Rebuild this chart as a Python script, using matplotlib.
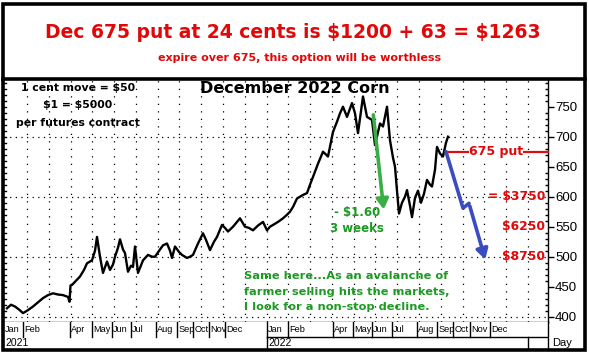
import numpy as np
import matplotlib.pyplot as plt
from matplotlib.patches import Rectangle
from matplotlib.lines import Line2D

# daily corn (Dec 2022 contract) - bar index and price in cents
bar = [3, 7, 11, 15, 19, 24, 29, 34, 39, 44, 49, 54, 59, 64, 65.5, 66.5,
       68, 72, 76, 80, 83, 88, 91, 93, 96, 99, 103, 106, 109, 111, 114, 116,
       119, 121, 124, 127, 129, 131, 134, 139, 144, 148, 151, 156, 159, 163,
       166, 168, 171, 175, 178, 183, 186, 189, 194, 199, 202, 206, 210, 213,
       218, 221, 224, 229, 233, 236, 241, 245, 249, 254, 259, 263, 266, 269,
       274, 279, 283, 286, 289, 293, 296, 299, 303, 306, 309, 314, 319, 324,
       329, 333, 336, 339, 343, 348, 351, 354, 359, 363, 368, 371, 376, 379,
       383, 386, 389, 391, 393, 395, 398, 401, 403, 406, 408, 411, 414, 417,
       420, 423, 426, 428, 431, 433, 436, 439, 442, 444]
price = [414, 420, 417, 412, 406, 411, 417, 424, 431, 436, 439, 437, 436, 433, 425, 452,
         453, 460, 467, 478, 489, 494, 510, 533, 500, 473, 492, 478, 487, 500, 515, 529,
         512, 506, 475, 485, 483, 517, 473, 494, 503, 500, 500, 512, 519, 522, 510, 498,
         517, 508, 503, 498, 500, 503, 522, 539, 528, 511, 525, 533, 553, 548, 542, 550,
         558, 564, 550, 548, 544, 552, 558, 544, 550, 553, 558, 564, 570, 575, 583, 597,
         600, 603, 606, 620, 633, 655, 675, 667, 708, 725, 739, 750, 733, 756, 739, 706,
         767, 733, 728, 686, 722, 717, 750, 694, 665, 650, 610, 572, 590, 600, 611, 585,
         566, 598, 610, 590, 605, 628, 620, 617, 645, 683, 672, 667, 690, 700]

months = ['Jan', 'Feb', 'Apr', 'May', 'Jun', 'Jul', 'Aug', 'Sep', 'Oct', 'Nov', 'Dec',
          'Jan', 'Feb', 'Apr', 'May', 'Jun', 'Jul', 'Aug', 'Sep', 'Oct', 'Nov', 'Dec']
month_start = [0, 19, 66, 88, 108, 127, 152, 173, 189, 205, 221,
               263, 284, 329, 349, 368, 388, 413, 433, 449, 466, 486]
years = ['2021', '2022', '']
year_start = [0, 263, 524]

put_strike = 675
put_path_bar = [442, 459, 465, 482]
put_path_price = [675, 581, 589, 491]
drop_bar = [369, 380]
drop_price = [741, 574]
payoff_levels = [600, 550, 500]
payoff_labels = ['= $3750', '$6250', '$8750']

W, H = 589, 355
RED = '#e00808'
GREEN = '#1c9a22'
BLUE = '#3b4cc0'


def fx(px):
    return px / W


def fy(py):
    return 1 - py / H


fig = plt.figure(figsize=(W / 100, H / 100), dpi=100)
fig.patch.set_facecolor('white')

ax = fig.add_axes([fx(4), fy(322), fx(548) - fx(4), fy(80) - fy(322)])
ax.set_xlim(0, 544)
ax.set_ylim(391.2, 794.5)
for s in ['top', 'left']:
    ax.spines[s].set_visible(False)
ax.spines['right'].set_linewidth(1)
ax.spines['bottom'].set_linewidth(1)

# dotted grid
for g in [400, 500, 600, 700]:
    ax.axhline(g, color='black', lw=0.9, ls=(0, (1, 3.5)), zorder=1)
for gx in 23 + 21.78 * np.arange(0, 24):
    ax.axvline(gx, color='black', lw=0.9, ls=(0, (1, 5)), zorder=1)

ax.yaxis.tick_right()
ax.set_yticks(np.arange(400, 751, 50))
ax.set_yticks(np.arange(400, 791, 10), minor=True)
ax.tick_params(axis='y', which='major', direction='out', length=4, width=1, pad=1,
               labelsize=9.5)
ax.tick_params(axis='y', which='minor', direction='in', length=2.5, width=1)
for lab in ax.get_yticklabels():
    lab.set_fontfamily('Liberation Sans')
ax.set_xticks([])

# left minor ticks
for v in np.arange(400, 791, 10):
    ax.plot([0, 1.6], [v, v], color='black', lw=1, clip_on=False, zorder=3)

ax.plot(bar, price, color='black', lw=1.7, zorder=4)

# annotations
ax.annotate('', xy=(drop_bar[1], drop_price[1]), xytext=(drop_bar[0], drop_price[0]),
            arrowprops=dict(arrowstyle='-|>,head_length=0.6,head_width=0.35',
                            color='#3aae46', lw=2.6), zorder=5)
ax.text(353, 574, '- $1.60', color=GREEN, fontsize=8.5, fontweight='bold',
        ha='center', va='center', parse_math=False)
ax.text(353, 547, '3 weeks', color=GREEN, fontsize=8.5, fontweight='bold',
        ha='center', va='center')

ax.plot([put_path_bar[0], 544], [put_strike, put_strike], color='#d81010', lw=1.6,
        zorder=5, clip_on=False)
ax.text(492, put_strike, '675 put', color=RED, fontsize=9, fontweight='bold',
        ha='center', va='center', zorder=6,
        bbox=dict(facecolor='white', edgecolor='none', pad=0.3))
ax.plot(put_path_bar[:-1], put_path_price[:-1], color=BLUE, lw=2.6, zorder=5,
        solid_capstyle='round', solid_joinstyle='round')
ax.annotate('', xy=(put_path_bar[-1], put_path_price[-1]),
            xytext=(put_path_bar[-2], put_path_price[-2]),
            arrowprops=dict(arrowstyle='-|>,head_length=0.6,head_width=0.35',
                            color=BLUE, lw=2.6), zorder=5)
for lv, lb in zip(payoff_levels, payoff_labels):
    ax.text(541, lv, lb, color=RED, fontsize=8.8, fontweight='bold',
            ha='right', va='center', zorder=6, parse_math=False)

ax.text(0.535, 0.995, 'December 2022 Corn', transform=ax.transAxes, fontsize=11.5,
        fontweight='bold', ha='center', va='top')
for i, t in enumerate(['1 cent move = $50', '$1 = $5000', 'per futures contract']):
    ax.text(74, 782 - i * 29.5, t, fontsize=7.8, fontweight='bold',
            ha='center', va='center', parse_math=False)
for i, t in enumerate(['Same here...As an avalanche of',
                       'farmer selling hits the markets,',
                       'I look for a non-stop decline.']):
    ax.text(240, 468 - i * 26, t, color=GREEN, fontsize=8.2, fontweight='bold',
            ha='left', va='center')

# month / year rows
axb = fig.add_axes([fx(4), fy(350), fx(548) - fx(4), fy(322) - fy(350)])
axb.set_xlim(0, 544)
axb.set_ylim(0, 28)
axb.set_xticks([])
axb.set_yticks([])
for s in ['top', 'left', 'bottom']:
    axb.spines[s].set_visible(False)
axb.spines['right'].set_linewidth(1)
for m, x0 in zip(months, month_start):
    if x0 > 0:
        axb.plot([x0, x0], [13, 28], color='black', lw=1)
    axb.text(x0 + 1.2, 20.5, m, fontsize=6.6, family='Liberation Sans', va='center')
for y, x0 in zip(years, year_start):
    if x0 > 0:
        axb.plot([x0, x0], [0, 13], color='black', lw=1)
    axb.text(x0 + 1.2, 7, y, fontsize=7.5, family='Liberation Sans', va='center')
axb.plot([year_start[1], 544], [13, 13], color='black', lw=1)
fig.text(fx(552), fy(343), 'Day', fontsize=8, family='Liberation Sans', va='center')

# title box
fig.text(fx(293), fy(33), 'Dec 675 put at 24 cents is $1200 + 63 = $1263', color=RED,
         fontsize=13.5, fontweight='bold', ha='center', va='center', parse_math=False)
fig.text(fx(300), fy(58), 'expire over 675, this option will be worthless', color=RED,
         fontsize=8, fontweight='bold', ha='center', va='center')

# frames
fig.add_artist(Rectangle((fx(2.5), fy(349.5)), fx(582) - fx(0), fy(0) - fy(346),
                         fill=False, lw=2.6, edgecolor='black', transform=fig.transFigure))
fig.add_artist(Line2D([fx(2.5), fx(584.5)], [fy(78.5), fy(78.5)], lw=2.6, color='black',
                      transform=fig.transFigure))

fig.savefig('out.png', dpi=100)
